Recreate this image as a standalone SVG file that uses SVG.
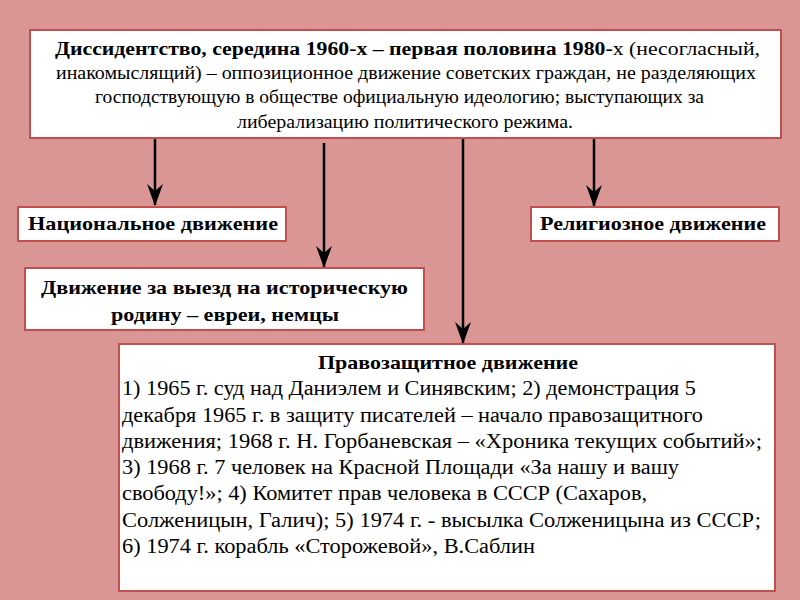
<svg xmlns="http://www.w3.org/2000/svg" width="800" height="600" viewBox="0 0 800 600">
<defs>
<marker id="ah" viewBox="0 0 22 16" refX="21" refY="8" markerWidth="22" markerHeight="16" markerUnits="userSpaceOnUse" orient="auto">
<path d="M0,0 L22,8 L0,16 L7,8 Z" fill="#000"/>
</marker>
</defs>
<style>
.box{fill:#fff;stroke:#C0504D;stroke-width:2}
.t{font-family:"Liberation Serif","Times New Roman","DejaVu Serif",serif;fill:#000}
.b{font-weight:bold}
.c{stroke:#000;stroke-width:2.5;fill:none}
</style>
<rect width="800" height="600" fill="#D99694"/>
<g id="connectors">
<line class="c" x1="155" y1="138" x2="155" y2="205" marker-end="url(#ah)"/>
<line class="c" x1="324" y1="143" x2="324" y2="267" marker-end="url(#ah)"/>
<line class="c" x1="463" y1="138" x2="463" y2="343" marker-end="url(#ah)"/>
<line class="c" x1="594" y1="138" x2="594" y2="206" marker-end="url(#ah)"/>
</g>
<g id="top">
<rect class="box" x="30" y="30" width="751" height="108"/>
<text class="t" font-size="18" lengthAdjust="spacingAndGlyphs">
<tspan x="55" y="55" textLength="705" lengthAdjust="spacingAndGlyphs"><tspan class="b">Диссидентство, середина 1960-х – первая половина 1980-</tspan>х (несогласный,</tspan>
</text>
<text class="t" font-size="18" x="56" y="79" textLength="700" lengthAdjust="spacingAndGlyphs">инакомыслящий) – оппозиционное движение советских граждан, не разделяющих</text>
<text class="t" font-size="18" x="95" y="103" textLength="609" lengthAdjust="spacingAndGlyphs">господствующую в обществе официальную идеологию; выступающих за</text>
<text class="t" font-size="18" x="237" y="128" textLength="336" lengthAdjust="spacingAndGlyphs">либерализацию политического режима.</text>
</g>
<g id="national">
<rect class="box" x="18" y="207" width="268" height="34"/>
<text class="t b" font-size="19" x="28" y="230" textLength="250" lengthAdjust="spacingAndGlyphs">Национальное движение</text>
</g>
<g id="religious">
<rect class="box" x="531" y="207" width="248" height="34"/>
<text class="t b" font-size="19" x="540" y="230" textLength="226" lengthAdjust="spacingAndGlyphs">Религиозное движение</text>
</g>
<g id="emigration">
<rect class="box" x="25" y="268" width="399" height="62"/>
<text class="t b" font-size="19" x="41" y="294" textLength="367" lengthAdjust="spacingAndGlyphs">Движение за выезд на историческую</text>
<text class="t b" font-size="19" x="111" y="321" textLength="228" lengthAdjust="spacingAndGlyphs">родину – евреи, немцы</text>
</g>
<g id="rights">
<rect class="box" x="119" y="344" width="656" height="247"/>
<text class="t b" font-size="19" x="318" y="369" textLength="260" lengthAdjust="spacingAndGlyphs">Правозащитное движение</text>
<text class="t" font-size="20" x="122" y="395" textLength="574" lengthAdjust="spacingAndGlyphs">1) 1965 г. суд над Даниэлем и Синявским; 2) демонстрация 5</text>
<text class="t" font-size="20" x="122" y="422" textLength="581" lengthAdjust="spacingAndGlyphs">декабря 1965 г. в защиту писателей – начало правозащитного</text>
<text class="t" font-size="20" x="122" y="448" textLength="640" lengthAdjust="spacingAndGlyphs">движения; 1968 г. Н. Горбаневская – «Хроника текущих событий»;</text>
<text class="t" font-size="20" x="122" y="474" textLength="557" lengthAdjust="spacingAndGlyphs">3) 1968 г. 7 человек на Красной Площади «За нашу и вашу</text>
<text class="t" font-size="20" x="122" y="500" textLength="525" lengthAdjust="spacingAndGlyphs">свободу!»; 4) Комитет прав человека в СССР (Сахаров,</text>
<text class="t" font-size="20" x="122" y="527" textLength="639" lengthAdjust="spacingAndGlyphs">Солженицын, Галич); 5) 1974 г. - высылка Солженицына из СССР;</text>
<text class="t" font-size="20" x="122" y="553" textLength="413" lengthAdjust="spacingAndGlyphs">6) 1974 г. корабль «Сторожевой», В.Саблин</text>
</g>
</svg>
